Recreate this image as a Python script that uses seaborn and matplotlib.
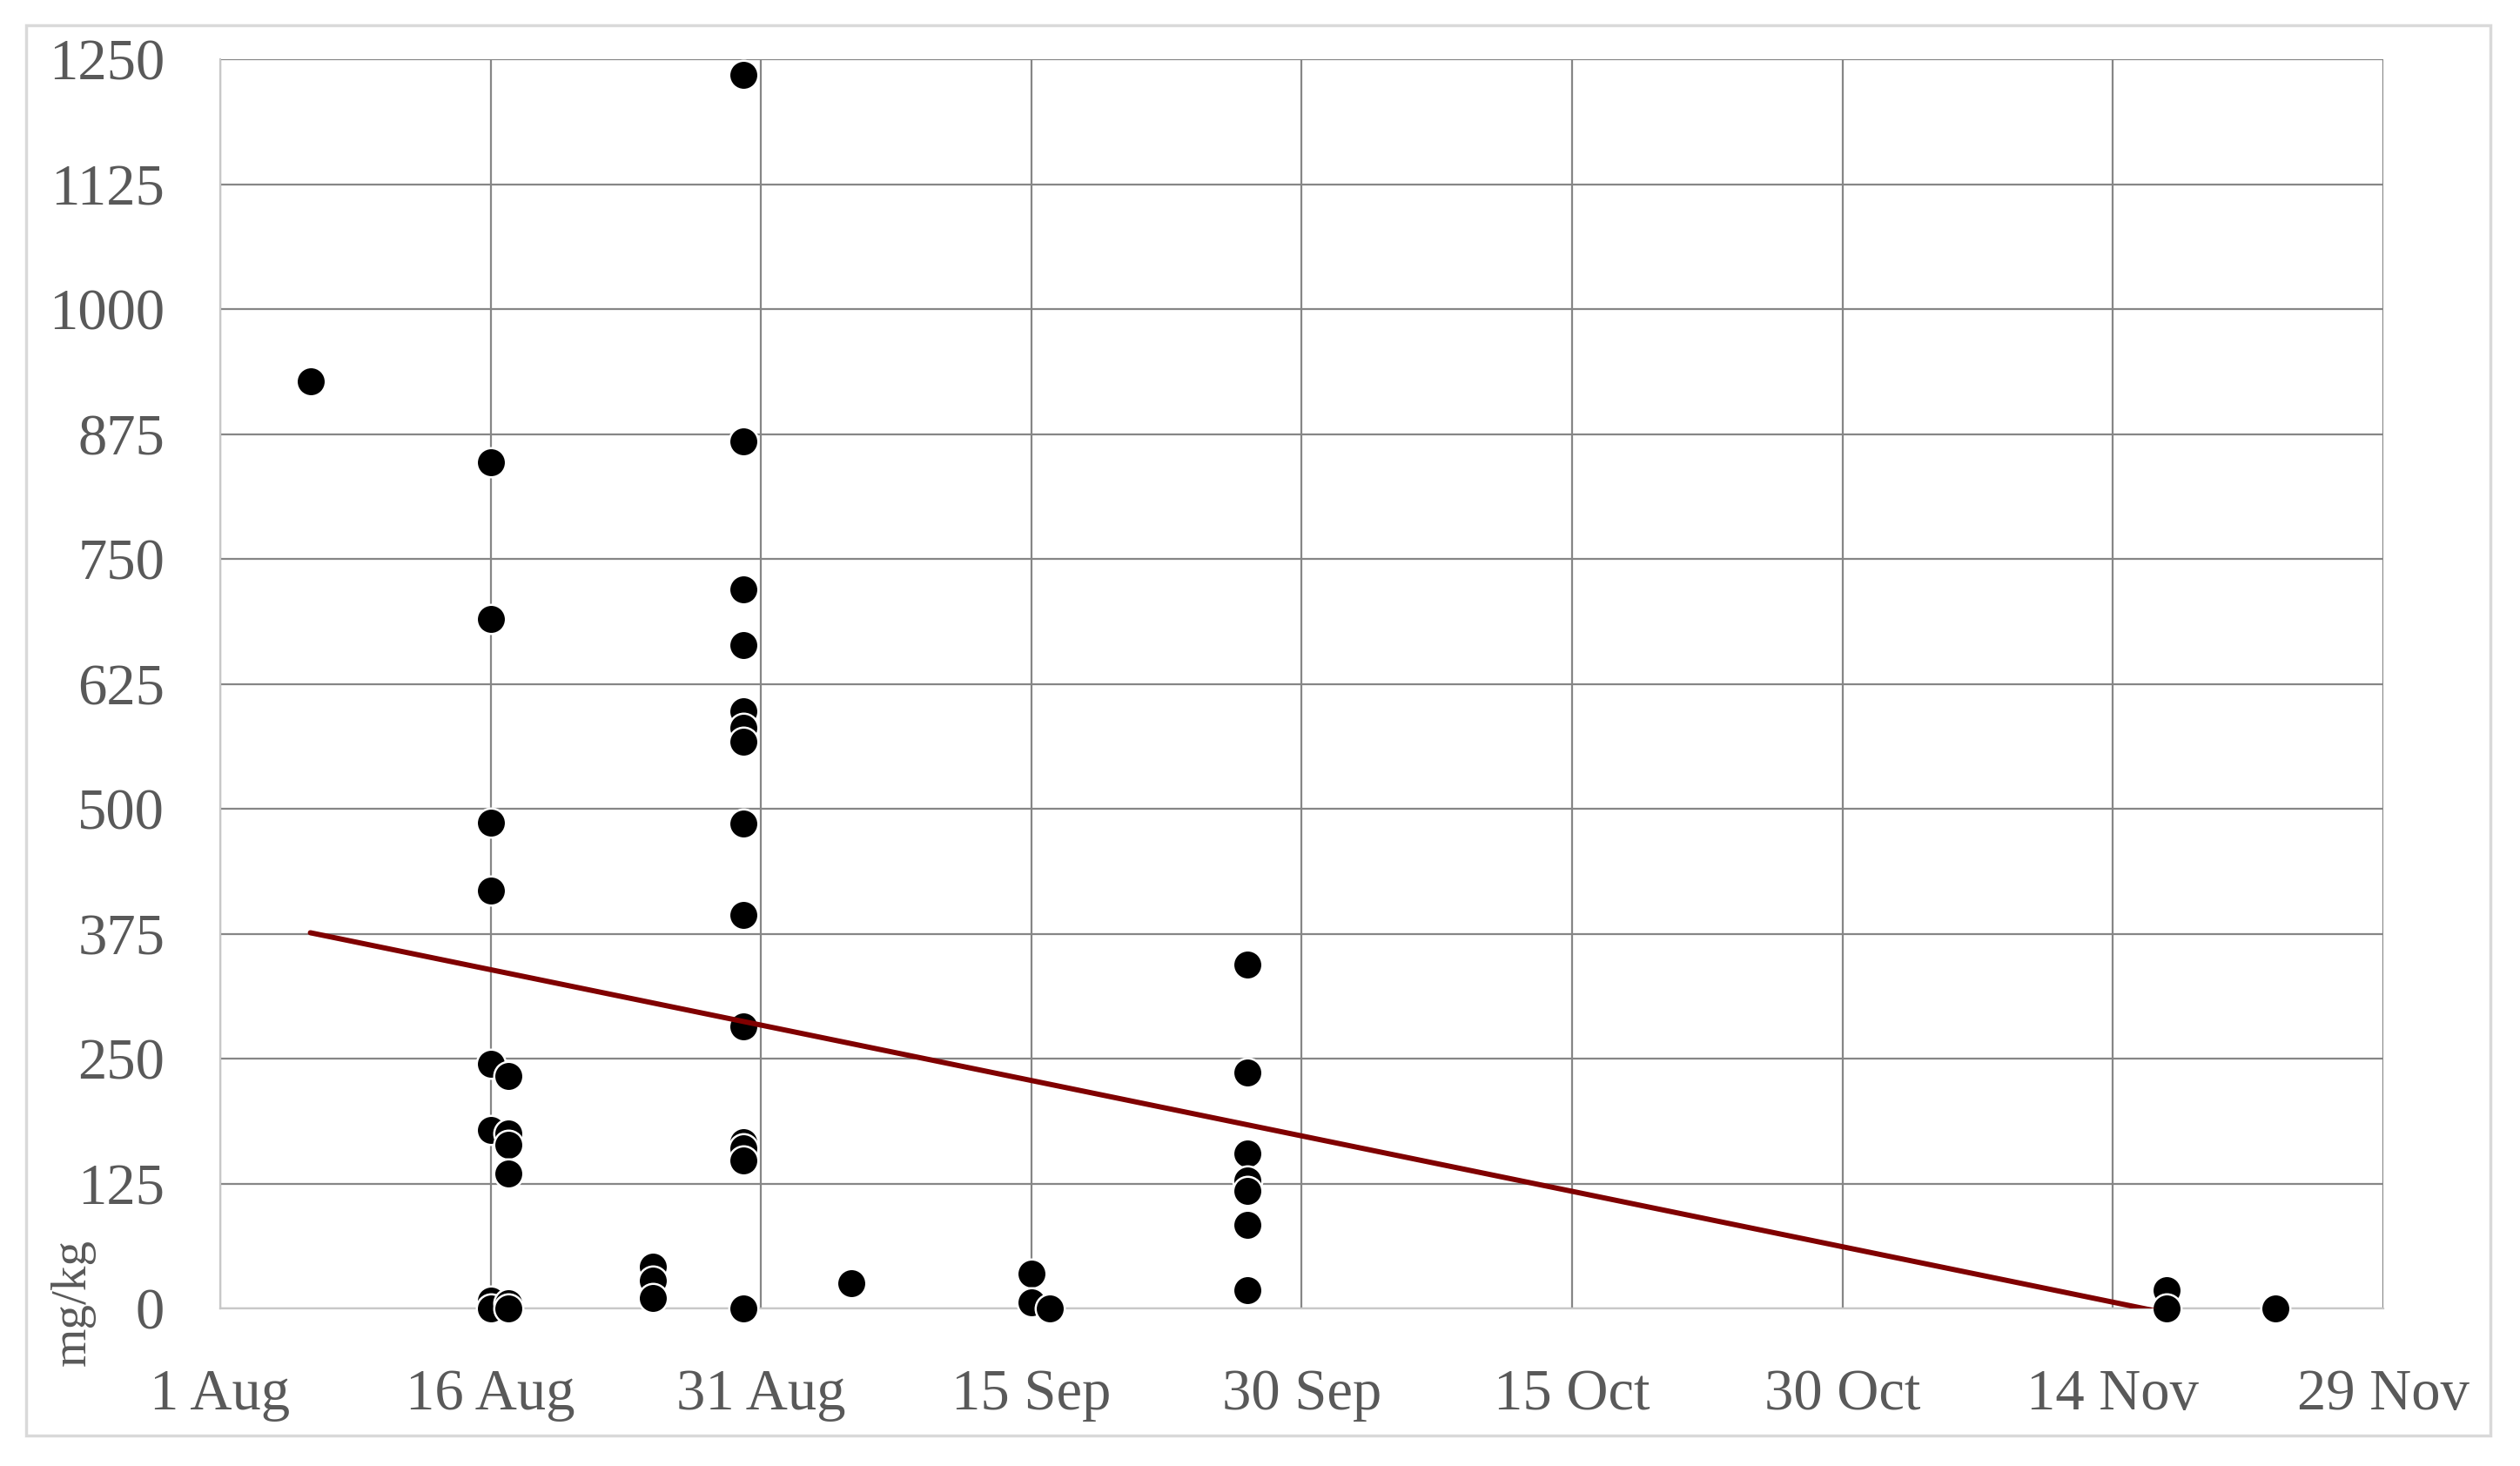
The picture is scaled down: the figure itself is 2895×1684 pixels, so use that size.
import pandas as pd
import matplotlib.pyplot as plt
from matplotlib.patches import Rectangle
import seaborn as sns

# sample dates and concentrations (mg/kg)
sample_dates = [
    '2019-08-06',
    '2019-08-16', '2019-08-16', '2019-08-16', '2019-08-16',
    '2019-08-16', '2019-08-16', '2019-08-16', '2019-08-16',
    '2019-08-17', '2019-08-17', '2019-08-17', '2019-08-17',
    '2019-08-17', '2019-08-17',
    '2019-08-25', '2019-08-25', '2019-08-25',
    '2019-08-30', '2019-08-30', '2019-08-30', '2019-08-30', '2019-08-30',
    '2019-08-30', '2019-08-30', '2019-08-30', '2019-08-30', '2019-08-30',
    '2019-08-30', '2019-08-30', '2019-08-30', '2019-08-30',
    '2019-09-05',
    '2019-09-15', '2019-09-15',
    '2019-09-16',
    '2019-09-27', '2019-09-27', '2019-09-27', '2019-09-27',
    '2019-09-27', '2019-09-27', '2019-09-27',
    '2019-11-17', '2019-11-17',
    '2019-11-23',
]
sample_values = [
    928,
    847, 690, 486, 418, 245, 179, 8, 0,
    233, 175, 164, 135, 5, 0,
    42, 28, 10,
    1235, 868, 720, 664, 598, 581, 567, 485, 394, 282, 166, 160, 148, 0,
    25,
    35, 6,
    0,
    344, 236, 155, 128, 118, 84, 18,
    18, 0,
    0,
]

# linear trend line end points
trend_dates = ['2019-08-06', '2019-11-23']
trend_values = [376, -27]

tick_dates = ['2019-08-01', '2019-08-16', '2019-08-31', '2019-09-15', '2019-09-30',
              '2019-10-15', '2019-10-30', '2019-11-14', '2019-11-29']
tick_labels = ['1 Aug', '16 Aug', '31 Aug', '15 Sep', '30 Sep',
               '15 Oct', '30 Oct', '14 Nov', '29 Nov']
y_ticks = [0, 125, 250, 375, 500, 625, 750, 875, 1000, 1125, 1250]

df = pd.DataFrame({'date': pd.to_datetime(sample_dates), 'value': sample_values})
trend = pd.DataFrame({'date': pd.to_datetime(trend_dates), 'value': trend_values})

sns.set_style('white')
plt.rcParams['font.family'] = ['Liberation Serif', 'DejaVu Serif']
text_col = '#595959'
grid_col = '#868686'

fig = plt.figure(figsize=(28.95, 16.84), dpi=100)
ax = fig.add_axes([0.0874, 0.1075, 0.8583, 0.8519])

# light frame around the whole chart area
fig.patches.append(Rectangle((0.0104, 0.0208), 0.9779, 0.962, transform=fig.transFigure,
                             fill=False, edgecolor='#d9d9d9', linewidth=2.5, zorder=0))

sns.scatterplot(data=df, x='date', y='value', ax=ax, color='black', s=580,
                edgecolor='white', linewidth=1.8, zorder=3, clip_on=False)
sns.lineplot(data=trend, x='date', y='value', ax=ax, color='#800000', linewidth=4.3, zorder=4)

ax.set_xlim(pd.Timestamp('2019-08-01'), pd.Timestamp('2019-11-29'))
ax.set_ylim(0, 1250)
ax.set_xticks(pd.to_datetime(tick_dates))
ax.set_xticklabels(tick_labels)
ax.set_yticks(y_ticks)

ax.grid(True, color=grid_col, linewidth=1.6, zorder=1)
ax.set_axisbelow(True)
for side in ['top', 'right']:
    ax.spines[side].set_visible(False)
for side in ['left', 'bottom']:
    ax.spines[side].set_color('#c8c8c8')
    ax.spines[side].set_linewidth(1.6)
    ax.spines[side].set_zorder(2)

ax.tick_params(axis='both', length=0, labelsize=48, colors=text_col)
ax.tick_params(axis='y', pad=46)
ax.tick_params(axis='x', pad=50)

ax.set_xlabel('')
ax.set_ylabel('mg/kg', fontsize=41, color=text_col, va='center')
ax.yaxis.set_label_coords(-0.068, 0.005)

fig.savefig('out.png', dpi=100, facecolor='white')
